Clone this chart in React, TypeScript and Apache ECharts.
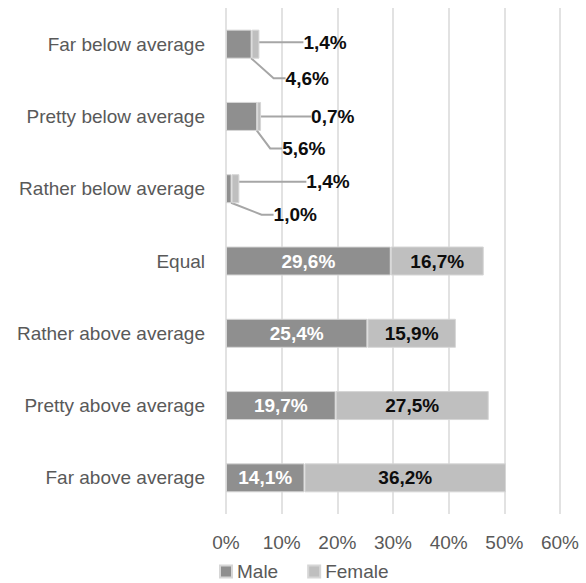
import React, { useEffect, useRef } from "react";
import * as echarts from "echarts";

// Perceived pay position by gender, share of respondents (%)
const categories = [
  "Far below average",
  "Pretty below average",
  "Rather below average",
  "Equal",
  "Rather above average",
  "Pretty above average",
  "Far above average",
];
const maleValues = [4.6, 5.6, 1.0, 29.6, 25.4, 19.7, 14.1];
const femaleValues = [1.4, 0.7, 1.4, 16.7, 15.9, 27.5, 36.2];
const xTicks = { min: 0, max: 60, step: 10 };

// Rows whose values are too small to hold a label inside the bar: their
// labels sit outside, tied to the bar by a leader line.
// Offsets are [px right of the segment end, px below the bar centre].
const calloutRows = [0, 1, 2];
const maleCallout: number[][] = [[34, 34], [25, 32], [42, 26]];
const femaleCallout: number[][] = [[44, -2], [50, 0], [67, -7]];

const FONT = "'Liberation Sans', Arial, sans-serif";
const MALE = "#8f8f8f";
const FEMALE = "#bfbfbf";
const TEXT = "#595959";
const PAD = 8;

const fmt = (v: number) => v.toFixed(1).replace(".", ",") + "%";

function buildData(values: number[]) {
  return values.map((v, i) =>
    calloutRows.includes(i)
      ? {
          value: v,
          label: { color: "#0d0d0d", padding: [0, 0, 0, PAD] },
          labelLine: { show: true },
        }
      : v
  );
}

export default function App() {
  const ref = useRef<HTMLDivElement>(null);

  useEffect(() => {
    if (!ref.current) return;
    const chart = echarts.init(ref.current, null, { renderer: "svg" });

    // Places the outside labels relative to the end of their bar segment.
    const layoutFor = (offsets: number[][]) => (p: any) => {
      const k = calloutRows.indexOf(p.dataIndex);
      if (k < 0) return {};
      const r = p.rect;
      return {
        x: r.x + r.width + offsets[k][0] - PAD,
        y: r.y + r.height / 2 + offsets[k][1],
        align: "left",
        verticalAlign: "middle",
      };
    };

    chart.setOption({
      animation: false,
      backgroundColor: "#ffffff",
      textStyle: { fontFamily: FONT },
      grid: { left: 226, right: 26, top: 8, bottom: 69, containLabel: false },
      legend: {
        data: ["Male", "Female"],
        left: 219,
        top: 562,
        padding: 0,
        icon: "rect",
        itemWidth: 12,
        itemHeight: 12,
        itemGap: 29,
        textStyle: {
          color: TEXT,
          fontSize: 19,
          lineHeight: 19,
          fontFamily: FONT,
        },
      },
      xAxis: {
        type: "value",
        min: xTicks.min,
        max: xTicks.max,
        interval: xTicks.step,
        axisLine: { show: false },
        axisTick: { show: false },
        axisLabel: {
          color: TEXT,
          fontSize: 19,
          fontFamily: FONT,
          margin: 19,
          formatter: "{value}%",
        },
        splitLine: { show: true, lineStyle: { color: "#d9d9d9", width: 1.5 } },
      },
      yAxis: {
        type: "category",
        inverse: true,
        data: categories,
        axisLine: { show: false },
        axisTick: { show: false },
        axisLabel: { color: TEXT, fontSize: 19, fontFamily: FONT, margin: 21 },
      },
      series: [
        {
          name: "Male",
          type: "bar",
          stack: "total",
          barWidth: 29,
          data: buildData(maleValues),
          itemStyle: { color: MALE, borderColor: "#d6d6d6", borderWidth: 1 },
          label: {
            show: true,
            position: "inside",
            color: "#ffffff",
            fontWeight: "bold",
            fontSize: 19,
            fontFamily: FONT,
            formatter: (p: any) => fmt(p.value),
          },
          labelLine: {
            show: false,
            length2: 12,
            lineStyle: { color: "#a6a6a6", width: 2 },
          },
          labelLayout: layoutFor(maleCallout),
        },
        {
          name: "Female",
          type: "bar",
          stack: "total",
          barWidth: 29,
          data: buildData(femaleValues),
          itemStyle: { color: FEMALE, borderColor: "#d6d6d6", borderWidth: 1 },
          label: {
            show: true,
            position: "inside",
            color: "#0d0d0d",
            fontWeight: "bold",
            fontSize: 19,
            fontFamily: FONT,
            formatter: (p: any) => fmt(p.value),
          },
          labelLine: {
            show: false,
            length2: 0,
            lineStyle: { color: "#a6a6a6", width: 2 },
          },
          labelLayout: layoutFor(femaleCallout),
        },
      ],
    });

    return () => chart.dispose();
  }, []);

  return (
    <div
      ref={ref}
      style={{ position: "fixed", left: 0, top: 0, width: 586, height: 583 }}
    />
  );
}
